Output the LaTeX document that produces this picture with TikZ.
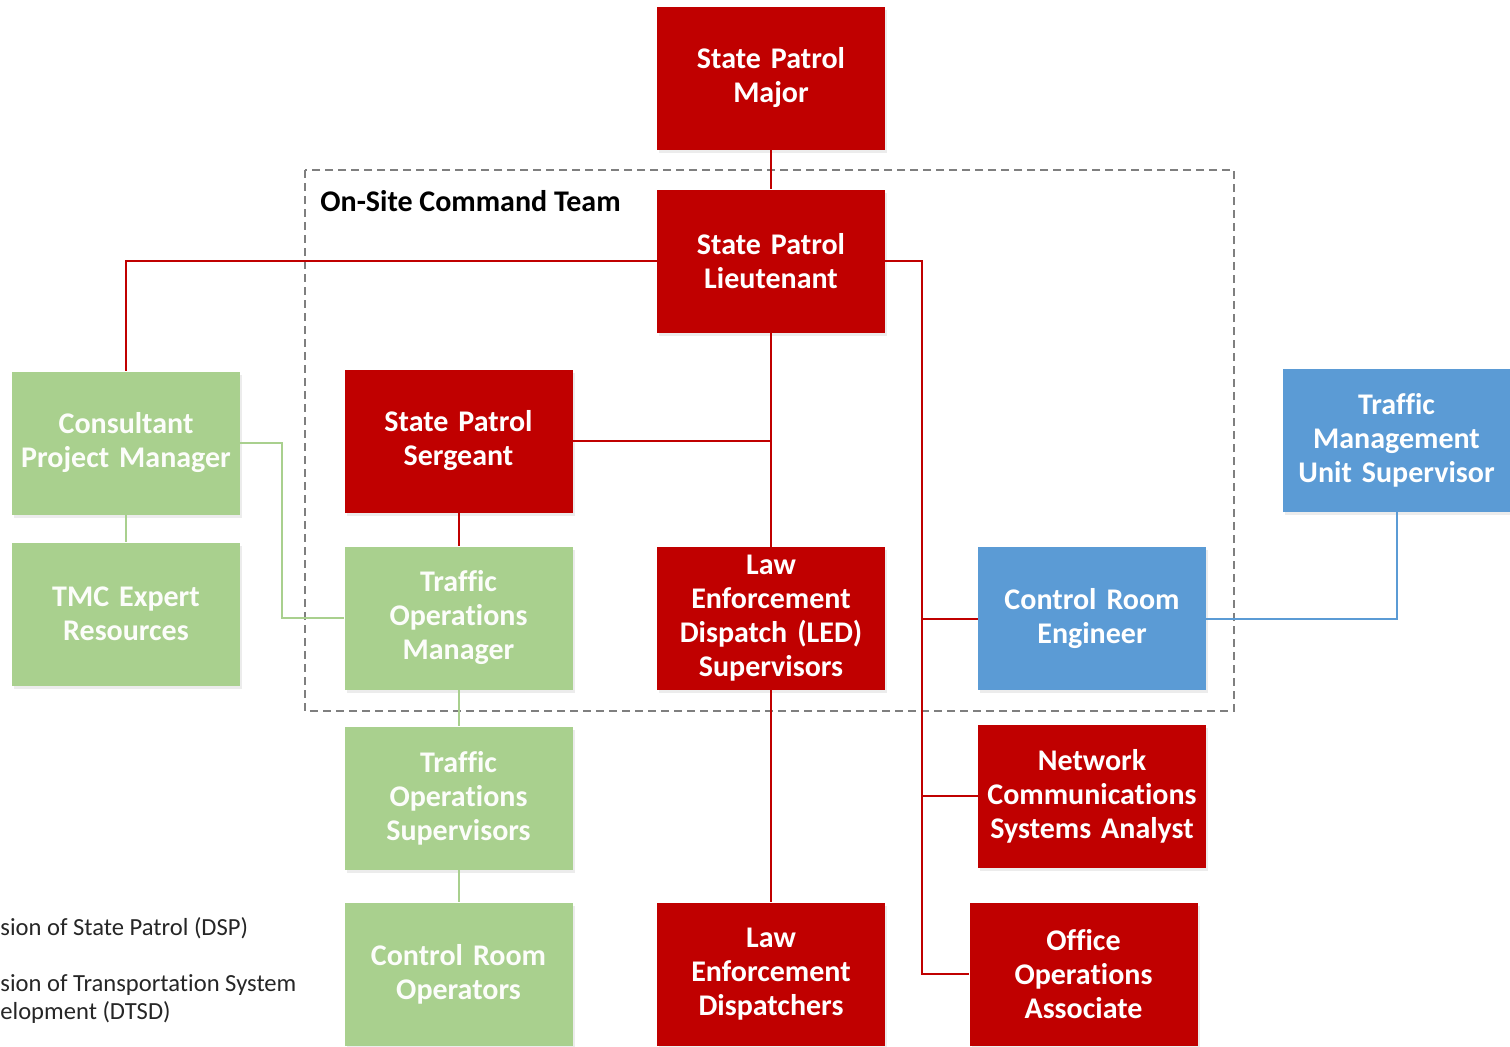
\documentclass[tikz,border=0pt]{standalone}
\usepackage{fontspec}
\setmainfont[RawFeature={-liga;-clig;-calt;-dlig}]{Carlito}
\usetikzlibrary{shadows}
\definecolor{dspred}{HTML}{C00000}
\definecolor{dtsdgreen}{HTML}{A9D08E}
\definecolor{tmublue}{HTML}{5B9BD5}
\definecolor{teamgrey}{HTML}{7F7F7F}
\begin{document}
\begin{tikzpicture}[x=0.5pt,y=-0.5pt,
  unit/.style={minimum width=114pt, minimum height=71.5pt, inner sep=0pt,
    align=center, text width=112pt, text=white,
    font=\fontsize{15}{17}\selectfont\bfseries,
    drop shadow={opacity=0.15, shadow xshift=1pt, shadow yshift=-1.5pt}},
  dsp/.style={unit, fill=dspred},
  dtsd/.style={unit, fill=dtsdgreen, text=white!96!dtsdgreen},
  tmu/.style={unit, fill=tmublue},
  redlink/.style={draw=dspred, line width=1pt},
  greenlink/.style={draw=dtsdgreen, line width=1pt},
  bluelink/.style={draw=tmublue, line width=1pt},
  teamframe/.style={draw=teamgrey, line width=0.9pt, dash pattern=on 4pt off 2.5pt},
  legendtext/.style={inner sep=0pt, anchor=west, align=left, text=black!85,
    font=\fontsize{12.3}{14}\selectfont}
]
\useasboundingbox (0,0) rectangle (1510,1046);

% on-site command team frame
\draw[teamframe] (305,170) rectangle (1234,711);
\node[anchor=west, inner sep=0pt, font=\fontsize{15}{17}\selectfont\bfseries]
  (teamlabel) at (320,201) {On-Site Command Team};

% units
\node[dsp]  (maj)  at (771,78)     {State Patrol\\Major};
\node[dsp]  (lt)   at (771,261)    {State Patrol\\Lieutenant};
\node[dtsd] (cpm)  at (126,443)    {Consultant\\Project Manager};
\node[dtsd] (tmc)  at (126,614)    {TMC Expert\\Resources};
\node[dsp]  (sgt)  at (458.5,441)  {State Patrol\\Sergeant};
\node[dtsd] (tom)  at (458.5,618)  {Traffic\\Operations\\Manager};
\node[dsp]  (led)  at (771,618.5)  {Law\\Enforcement\\Dispatch (LED)\\Supervisors};
\node[tmu]  (cre)  at (1092,618.5) {Control Room\\Engineer};
\node[tmu]  (tmus) at (1396.5,440.5) {Traffic\\Management\\Unit Supervisor};
\node[dtsd] (tos)  at (458.5,798)  {Traffic\\Operations\\Supervisors};
\node[dtsd] (cro)  at (458.5,974)  {Control Room\\Operators};
\node[dsp]  (ledd) at (771,974)    {Law\\Enforcement\\Dispatchers};
\node[dsp]  (ncsa) at (1092,796)   {Network\\Communications\\Systems Analyst};
\node[dsp]  (ooa)  at (1083.5,974) {Office\\Operations\\Associate};

% legend
\node[legendtext] (leg1) at (0,928) {sion of State Patrol (DSP)};
\node[legendtext] (leg2) at (0,999) {sion of Transportation System\\elopment (DTSD)};

% bus points
\coordinate (rbus) at (922,261);
\coordinate (gbus) at (282,443);

% state patrol chain
\draw[redlink] (maj.south) -- (lt.north);
\draw[redlink] (lt.west) -| (cpm.north);
\draw[redlink] (lt.south) -- (led.north);
\draw[redlink] (sgt.east) -- (lt.south |- sgt.east);
\draw[redlink] (sgt.south) -- (tom.north);
\draw[redlink] (led.south) -- (ledd.north);
\draw[redlink] (lt.east) -- (rbus) |- (ooa.west);
\draw[redlink] (rbus |- cre.west) -- (cre.west);
\draw[redlink] (rbus |- ncsa.west) -- (ncsa.west);

% transportation chain
\draw[greenlink] (cpm.south) -- (tmc.north);
\draw[greenlink] (cpm.east) -- (gbus) |- (tom.west);
\draw[greenlink] (tom.south) -- (tos.north);
\draw[greenlink] (tos.south) -- (cro.north);

% traffic management link
\draw[bluelink] (cre.east) -| (tmus.south);
\end{tikzpicture}
\end{document}
